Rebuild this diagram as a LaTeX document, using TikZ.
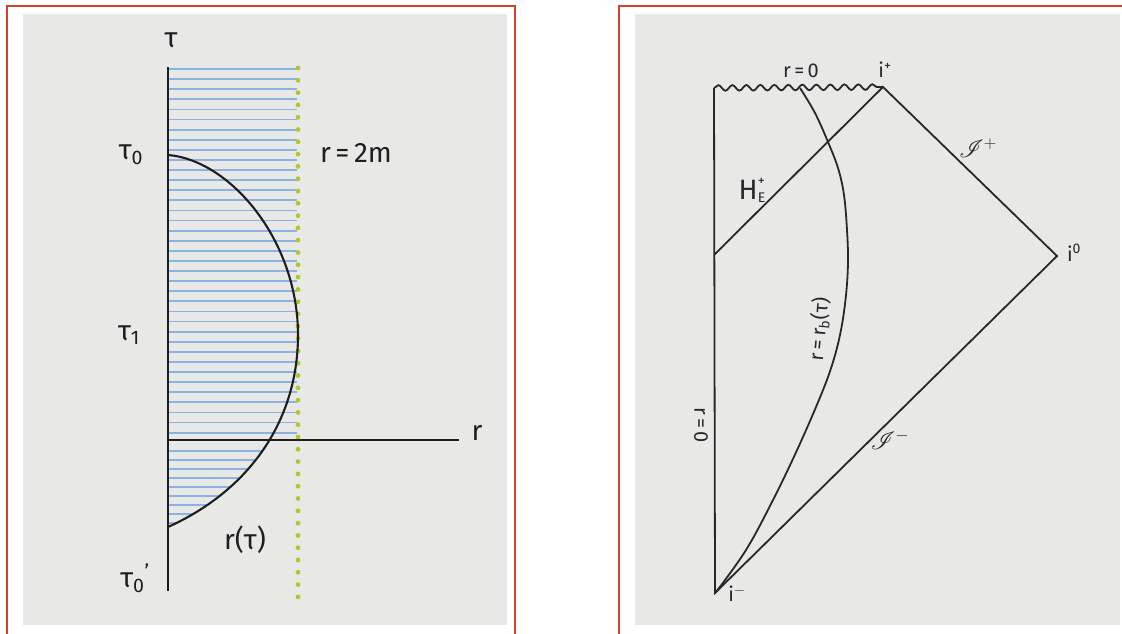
\documentclass[tikz,border=0pt]{standalone}
\usepackage{fontspec}
\setmainfont{Fira Sans}
\usepackage{mathrsfs}
\usetikzlibrary{decorations.pathmorphing}
\definecolor{paper}{RGB}{232,232,231}
\definecolor{framered}{RGB}{205,65,45}
\definecolor{hatchblue}{RGB}{140,178,228}
\definecolor{dotgreen}{RGB}{175,200,45}
\definecolor{ink}{RGB}{30,30,30}
\definecolor{pencil}{RGB}{40,40,40}
\begin{document}
\begin{tikzpicture}[x=1pt,y=-1pt,
  framestyle/.style={draw=framered,line width=1.3pt},
  axisline/.style={draw=ink,line width=2.4pt},
  curveline/.style={draw=ink,line width=2.1pt},
  hatchline/.style={draw=hatchblue,line width=1.8pt},
  penline/.style={draw=pencil,line width=1.8pt},
  biglabel/.style={font=\fontsize{28}{30}\selectfont,text=ink,inner sep=0pt},
  smalllabel/.style={font=\fontsize{20}{22}\selectfont,text=pencil,inner sep=0pt},
]
\useasboundingbox (0,0) rectangle (1122,633);
\fill[white] (0,0) rectangle (1122,633);
% frames and paper
\draw[framestyle] (7,640) -- (7,6) -- (515,6) -- (515,640);
\draw[framestyle] (619,640) -- (619,6) -- (1130,6);
\fill[paper] (23,14) rectangle (507,625);
\fill[paper] (635,14) rectangle (1120,625);

% ---------------- left panel ----------------
\coordinate (O) at (168,440);
\coordinate (tautop) at (168,67);
\coordinate (taubot) at (168,591);
\coordinate (rend) at (459,440);
\coordinate (c0) at (168,155);
\coordinate (c1) at (298,335);
\coordinate (c2) at (168,527);

% hatching above the r axis
\begin{scope}
\clip (168,60) rectangle (297,440);
\foreach \y in {69,79.1,...,436} \draw[hatchline] (168,\y) -- (297,\y);
\end{scope}
% hatching below the r axis, inside the curve
\begin{scope}
\clip (c0) .. controls (230,160) and (298,240) .. (c1) .. controls (298,420) and (250,490) .. (c2) -- cycle;
\foreach \y in {451,460,...,525} \draw[hatchline] (168,\y) -- (297,\y);
\end{scope}

% green dotted line r = 2m
\foreach \i in {0,...,43} \fill[dotgreen] (298,{68+12.3*\i}) circle (2.4);

% axes
\draw[axisline] (tautop) -- (taubot);
\draw[axisline] (O) -- (rend);

% r(tau) curve
\draw[curveline] (c0) .. controls (230,160) and (298,240) .. (c1) .. controls (298,420) and (250,490) .. (c2);

% labels
\node[biglabel] (ltau) at (171,40) {τ};
\node[biglabel] (ltau0) at (131,155) {τ\textsubscript{0}};
\node[biglabel] (ltau1) at (129,335) {τ\textsubscript{1}};
\node[biglabel] (ltau0p) at (135,578) {τ\textsubscript{0}\textsuperscript{'}};
\node[biglabel] (lr2m) at (356,153) {r\,=\,2m};
\node[biglabel] (lrtau) at (245,540) {r(τ)};
\node[biglabel] (lr) at (477,433) {r};

% ---------------- right panel ----------------
\coordinate (TL) at (714,88);
\coordinate (ip) at (883,87);
\coordinate (iz) at (1057,256);
\coordinate (im) at (715,593);
\coordinate (HE) at (714,255);

\draw[penline,decorate,decoration={snake,segment length=14pt,amplitude=2.8pt}] (TL) -- (ip);
\draw[penline] (TL) -- (im) -- (iz) -- (ip) -- (HE);
\draw[penline] plot[smooth,tension=0.6] coordinates {(800,88) (815,113) (828,142) (838,168) (844,195) (847,230) (848,262) (846,295) (841,330) (833,362) (821,395) (798,448) (773,500) (746,550) (716,592)};

\node[smalllabel] (r0top) at (801,71) {r\,=\,0};
\node[smalllabel] (lip) at (885,70) {i\textsuperscript{+}};
\node[smalllabel] (liz) at (1074,253) {i\textsuperscript{0}};
\node[smalllabel] (lim) at (737,594) {i\textsuperscript{$-$}};
\node[smalllabel,font=\fontsize{28}{30}\selectfont] (lhe) at (752,190) {H\rlap{\raisebox{14pt}{\fontsize{14}{14}\selectfont +}}\raisebox{-3pt}{\fontsize{14}{14}\selectfont E}};
\node[smalllabel,font=\fontsize{24}{26}\selectfont] (lscrp) at (978,148) {$\mathscr{I}^{+}$};
\node[smalllabel,font=\fontsize{24}{26}\selectfont] (lscrm) at (890,440) {$\mathscr{I}^{-}$};
\node[smalllabel,rotate=-90] (r0v) at (701,425) {r\,=\,0};
\node[smalllabel,rotate=85] (rbl) at (819,329) {r\,=\,r\textsubscript{b}(τ)};
\end{tikzpicture}
\end{document}
